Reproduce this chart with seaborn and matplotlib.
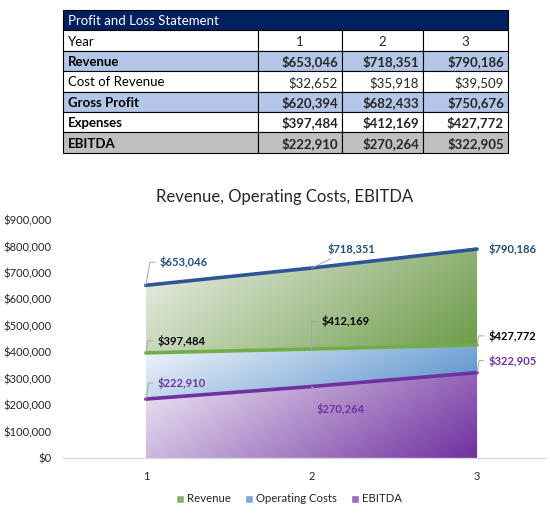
import numpy as np
import matplotlib
matplotlib.use("Agg")
import matplotlib.pyplot as plt
import seaborn as sns
from matplotlib.colors import to_rgb
from matplotlib.patches import Rectangle, Patch

# data
years = [1, 2, 3]
revenue = [653046, 718351, 790186]
cost_of_revenue = [32652, 35918, 39509]
gross_profit = [620394, 682433, 750676]
expenses = [397484, 412169, 427772]
ebitda = [222910, 270264, 322905]

table_title = "Profit and Loss Statement"
row_labels = ["Revenue", "Cost of Revenue", "Gross Profit", "Expenses", "EBITDA"]
chart_title = "Revenue, Operating Costs, EBITDA"
legend_labels = ["Revenue", "Operating Costs", "EBITDA"]
y_ticks = [0, 100000, 200000, 300000, 400000, 500000, 600000, 700000, 800000, 900000]

sns.set_theme(style="white")
plt.rcParams["font.family"] = ["Lato", "DejaVu Sans"]

fig = plt.figure(figsize=(5.5, 5.24), dpi=100)

# ---- table drawn in pixel coordinates ----
tab = fig.add_axes([0, 0, 1, 1])
tab.set_xlim(0, 550)
tab.set_ylim(524, 0)
tab.axis("off")
tab.patch.set_visible(False)

col_x = [63, 258, 342, 423, 508]
row_y = [10, 30, 51, 71, 92, 112, 132, 153]
row_fill = ["white", "#B4C6E7", "white", "#B4C6E7", "white", "#BFBFBF"]
row_bold = [False, True, False, True, True, True]

tab.add_patch(Rectangle((col_x[0], row_y[0]), col_x[-1] - col_x[0], row_y[1] - row_y[0],
                        facecolor="#002060", edgecolor="black", lw=0.8))
tab.text(col_x[0] + 5, (row_y[0] + row_y[1]) / 2 + 1, table_title, color="white",
         size=9.5, ha="left", va="center")

table_rows = [("Year", [str(y) for y in years])]
for lab, vals in zip(row_labels, [revenue, cost_of_revenue, gross_profit, expenses, ebitda]):
    table_rows.append((lab, ["${:,.0f}".format(v) for v in vals]))

for i, (lab, vals) in enumerate(table_rows):
    y0, y1 = row_y[i + 1], row_y[i + 2]
    ym = (y0 + y1) / 2 + 1
    for c in range(4):
        tab.add_patch(Rectangle((col_x[c], y0), col_x[c + 1] - col_x[c], y1 - y0,
                                facecolor=row_fill[i], edgecolor="black", lw=0.8))
    w = "bold" if row_bold[i] else "normal"
    tab.text(col_x[0] + 5, ym, lab, size=9.5, weight=w, ha="left", va="center", color="black")
    for c, v in enumerate(vals):
        if i == 0:
            tab.text((col_x[c + 1] + col_x[c + 2]) / 2, ym, v, size=9.5, ha="center", va="center")
        else:
            tab.text(col_x[c + 2] - 4, ym, v, size=9.5, weight=w, ha="right", va="center")

# ---- area chart ----
ax = fig.add_axes([63 / 550, 66 / 524, (545 - 63) / 550, 238 / 524])


def gradient_fill(ax, x, lo, hi, light, dark, z):
    poly = ax.fill_between(x, lo, hi, color="none", lw=0)
    u = np.linspace(0, 1, 300)[None, :]
    v = np.linspace(0, 1, 150)[:, None]
    t = np.clip(0.72 * u + 0.28 * v, 0, 1)
    light, dark = np.array(to_rgb(light)), np.array(to_rgb(dark))
    img = light + (dark - light) * t[..., None]
    im = ax.imshow(img, extent=[x[0], x[-1], min(lo), max(hi)], origin="upper",
                   aspect="auto", zorder=z, interpolation="bilinear")
    im.set_clip_path(poly.get_paths()[0], transform=ax.transData)


gradient_fill(ax, years, expenses, revenue, "#EEF1EA", "#6B9A47", 1)
gradient_fill(ax, years, ebitda, expenses, "#F3F7FC", "#4F8BC9", 1)
gradient_fill(ax, years, [0, 0, 0], ebitda, "#F1ECF6", "#7030A0", 1)

line_colors = ["#2F5597", "#70AD47", "#7030A0"]
text_colors = ["#1F4E79", "black", "#7030A0"]
for vals, col in zip([revenue, expenses, ebitda], line_colors):
    sns.lineplot(x=years, y=vals, ax=ax, color=col, lw=2.6, zorder=3)

# data labels with leader lines (offsets in pixels)
label_style = [
    [(14, 23, "left", "angle,angleA=180,angleB=80,rad=0"),
     (40, 19, "center", "arc3"),
     (11, 0, "left", None)],
    [(12, 12, "left", "angle,angleA=180,angleB=80,rad=0"),
     (10, 28, "left", "angle,angleA=180,angleB=90,rad=0"),
     (11, 9, "left", "angle,angleA=180,angleB=80,rad=0")],
    [(12, 16, "left", "angle,angleA=180,angleB=80,rad=0"),
     (29, -22, "center", "arc3"),
     (11, 12, "left", "angle,angleA=180,angleB=80,rad=0")],
]
for vals, tcol, styles in zip([revenue, expenses, ebitda], text_colors, label_style):
    for x, v, (dx, dy, ha, cs) in zip(years, vals, styles):
        ap = None
        if cs is not None:
            ap = dict(arrowstyle="-", color="#A6A6A6", lw=0.7, shrinkA=1, shrinkB=0,
                      connectionstyle=cs)
        ax.annotate("${:,.0f}".format(v), xy=(x, v), xytext=(dx, dy),
                    textcoords="offset pixels", ha=ha, va="center", size=8,
                    weight="bold", color=tcol, arrowprops=ap, zorder=5)

ax.set_xlim(0.5, 3.41)
ax.set_ylim(0, 900000)
ax.set_xticks(years)
ax.set_xticklabels([str(y) for y in years])
ax.set_yticks(y_ticks)
ax.set_yticklabels(["${:,.0f}".format(t) for t in y_ticks])
ax.tick_params(length=0, labelsize=8, colors="#262626")
ax.tick_params(axis="x", pad=9)
ax.tick_params(axis="y", pad=8)
ax.set_xlabel("")
ax.set_ylabel("")
for s in ["top", "right", "left"]:
    ax.spines[s].set_visible(False)
ax.spines["bottom"].set_color("#D9D9D9")
ax.spines["bottom"].set_linewidth(1)
ax.grid(False)
ax.patch.set_visible(False)

fig.text(285 / 550, 1 - 197 / 524, chart_title, ha="center", va="center",
         size=12, color="#262626")

handles = [Patch(facecolor=c) for c in ["#8DB071", "#7FAAD8", "#9B6CC0"]]
fig.legend(handles, legend_labels, loc="center", bbox_to_anchor=(289 / 550, 1 - 499 / 524),
           ncol=3, frameon=False, fontsize=8.2, handlelength=0.7, handleheight=0.7,
           handletextpad=0.3, columnspacing=1.2, labelcolor="#262626")

fig.savefig("out.png", dpi=100)
